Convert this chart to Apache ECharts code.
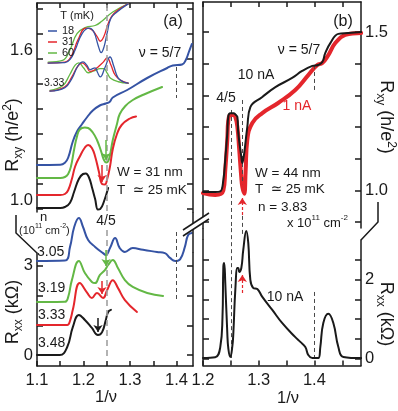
<!DOCTYPE html>
<html lang="en">
<head>
<meta charset="utf-8">
<style>
  html, body { margin: 0; padding: 0; background: #fff; }
  #chart { width: 398px; height: 411px; }
</style>
</head>
<body>
<div id="chart"></div>
<script src="https://cdn.jsdelivr.net/npm/echarts@6.0.0/dist/echarts.min.js"></script>
<script>
// ---- panel (a): Rxy (h/e^2), traces offset vertically as in the figure
var aRxyBlue  = [[1.100,1.176],[1.150,1.177],[1.160,1.185],[1.167,1.205],[1.177,1.270],[1.186,1.310],[1.197,1.340],[1.208,1.368],[1.220,1.394],[1.235,1.414],[1.248,1.422],[1.256,1.428],[1.263,1.446],[1.294,1.476],[1.337,1.524],[1.380,1.564],[1.392,1.574],[1.412,1.578],[1.420,1.596],[1.427,1.630],[1.433,1.660]];
var aRxyGreen = [[1.100,1.124],[1.150,1.124],[1.160,1.128],[1.167,1.140],[1.173,1.170],[1.180,1.240],[1.186,1.290],[1.192,1.318],[1.203,1.326],[1.210,1.324],[1.220,1.306],[1.229,1.276],[1.238,1.230],[1.244,1.196],[1.249,1.186],[1.255,1.200],[1.263,1.276],[1.272,1.340],[1.278,1.380],[1.290,1.412],[1.306,1.436],[1.330,1.458],[1.369,1.488]];
var aRxyRed   = [[1.100,1.056],[1.150,1.056],[1.160,1.060],[1.167,1.075],[1.175,1.120],[1.182,1.170],[1.192,1.210],[1.203,1.246],[1.210,1.256],[1.218,1.244],[1.225,1.210],[1.233,1.150],[1.240,1.100],[1.246,1.098],[1.251,1.120],[1.257,1.170],[1.263,1.240],[1.272,1.300],[1.282,1.336],[1.300,1.362],[1.313,1.370]];
var aRxyBlack = [[1.100,1.004],[1.150,1.004],[1.160,1.008],[1.171,1.025],[1.180,1.070],[1.190,1.120],[1.199,1.140],[1.205,1.142],[1.212,1.125],[1.218,1.088],[1.225,1.040],[1.231,0.998],[1.236,1.000],[1.244,1.030],[1.253,1.084]];

// ---- panel (a): Rxx (kOhm), labelled by density n
var aRxxBlue  = [[1.100,3.165],[1.160,3.180],[1.171,3.640],[1.180,4.310],[1.190,4.610],[1.199,4.310],[1.210,3.870],[1.225,3.640],[1.242,3.430],[1.248,3.370],[1.257,3.600],[1.268,3.940],[1.278,3.600],[1.289,3.470],[1.306,3.600],[1.328,3.540],[1.358,3.470],[1.375,3.430],[1.386,3.270],[1.397,3.165],[1.408,3.230],[1.418,3.640],[1.425,4.040],[1.433,4.110]];
var aRxxGreen = [[1.100,1.785],[1.160,1.790],[1.167,1.950],[1.175,2.520],[1.190,3.165],[1.203,2.760],[1.218,2.460],[1.225,2.420],[1.235,2.690],[1.246,2.860],[1.253,3.030],[1.263,3.200],[1.274,2.930],[1.289,2.520],[1.306,2.290],[1.337,2.090],[1.371,1.990]];
var aRxxRed   = [[1.100,1.010],[1.165,1.010],[1.171,1.150],[1.177,1.520],[1.192,2.420],[1.208,2.090],[1.218,1.920],[1.229,2.090],[1.242,1.920],[1.251,2.190],[1.263,2.520],[1.274,2.260],[1.289,1.850],[1.315,1.450]];
var aRxxBlack = [[1.100,0.000],[1.149,0.000],[1.165,0.270],[1.177,0.940],[1.190,1.350],[1.203,1.180],[1.218,0.910],[1.231,0.670],[1.240,0.770],[1.248,1.180],[1.253,1.450],[1.259,1.520]];
var aDensity  = ['3.05', '3.19', '3.33', '3.48'];

// ---- panel (a) inset: T dependence at n = 3.33 (arbitrary units)
var insetTemps = ['18', '31', '60'];
var insUpBlue  = [[1.124,0.333],[1.160,0.338],[1.172,0.380],[1.182,0.478],[1.197,0.660],[1.212,0.720],[1.222,0.680],[1.232,0.520],[1.238,0.448],[1.244,0.510],[1.251,0.670],[1.259,0.830],[1.272,0.900],[1.296,0.990]];
var insUpRed   = [[1.124,0.333],[1.160,0.343],[1.175,0.420],[1.188,0.590],[1.205,0.720],[1.216,0.710],[1.229,0.630],[1.236,0.575],[1.244,0.630],[1.253,0.770],[1.265,0.880],[1.296,0.990]];
var insUpGreen = [[1.124,0.343],[1.155,0.362],[1.170,0.470],[1.186,0.660],[1.205,0.730],[1.225,0.750],[1.240,0.800],[1.263,0.900],[1.296,0.990]];
var insLoBlue  = [[1.128,0.020],[1.160,0.060],[1.175,0.160],[1.188,0.300],[1.199,0.345],[1.207,0.310],[1.214,0.260],[1.225,0.280],[1.230,0.230],[1.236,0.180],[1.246,0.280],[1.257,0.400],[1.265,0.300],[1.274,0.170],[1.285,0.125],[1.296,0.110]];
var insLoRed   = [[1.128,0.020],[1.160,0.070],[1.175,0.180],[1.188,0.300],[1.197,0.335],[1.207,0.290],[1.214,0.240],[1.222,0.250],[1.229,0.280],[1.242,0.340],[1.251,0.390],[1.259,0.310],[1.268,0.200],[1.280,0.140],[1.296,0.110]];
var insLoGreen = [[1.128,0.030],[1.155,0.080],[1.170,0.200],[1.182,0.310],[1.190,0.335],[1.200,0.280],[1.210,0.225],[1.222,0.245],[1.236,0.270],[1.244,0.270],[1.251,0.220],[1.259,0.160],[1.275,0.125],[1.296,0.110]];

// ---- panel (b): W = 44 nm, 10 nA (black) and 1 nA (red)
var bRxy10nA = [[1.200,0.995],[1.222,0.995],[1.231,0.997],[1.2365,1.033],[1.240,1.100],[1.2436,1.181],[1.2455,1.235],[1.249,1.244],[1.255,1.244],[1.258,1.240],[1.2617,1.232],[1.2634,1.181],[1.2688,1.106],[1.2706,1.087],[1.274,1.118],[1.2795,1.200],[1.285,1.263],[1.3065,1.295],[1.330,1.326],[1.360,1.355],[1.378,1.377],[1.3963,1.393],[1.407,1.396],[1.4142,1.405],[1.4196,1.434],[1.4286,1.465],[1.443,1.494],[1.461,1.497],[1.484,1.500]];
var bRxy1nA  = [[1.200,0.992],[1.222,0.986],[1.2365,1.000],[1.240,1.065],[1.2436,1.160],[1.2455,1.222],[1.249,1.238],[1.2545,1.238],[1.258,1.232],[1.2617,1.200],[1.265,1.130],[1.2688,1.040],[1.2706,1.011],[1.274,0.990],[1.2765,1.060],[1.2795,1.159],[1.2885,1.213],[1.3065,1.244],[1.335,1.276],[1.3657,1.317],[1.389,1.364],[1.4052,1.396],[1.4142,1.402],[1.425,1.427],[1.4375,1.465],[1.4555,1.491],[1.484,1.497]];
var bRxx10nA = [[1.200,0.010],[1.222,0.030],[1.231,0.290],[1.235,1.050],[1.2365,2.320],[1.238,2.420],[1.240,1.910],[1.2436,0.650],[1.2455,0.250],[1.249,0.040],[1.2526,0.300],[1.2545,0.650],[1.258,1.730],[1.2617,2.290],[1.2634,2.290],[1.265,2.190],[1.2688,2.290],[1.2723,2.750],[1.2777,3.230],[1.2813,2.920],[1.285,1.990],[1.290,1.790],[1.2975,1.760],[1.3065,1.560],[1.3244,1.230],[1.342,0.900],[1.3657,0.540],[1.3747,0.420],[1.3837,0.290],[1.389,0.090],[1.3963,0.010],[1.407,0.010],[1.4106,0.290],[1.416,0.900],[1.425,1.130],[1.434,0.900],[1.443,0.290],[1.452,0.040],[1.484,0.010]];

// guide lines (dashed) and arrows, in axis units
var aGuideTop   = [[[1.25,1.816],[1.25,0.989]]];
var aGuideTop57 = [[[1.40,1.568],[1.40,1.444]]];
var aGuideBot   = [[[1.25,4.209],[1.25,-0.168]]];
var aGuideBot57 = [[[1.40,4.141],[1.40,1.852]]];
var bGuideTop   = [[[1.25,1.254],[1.25,0.8817]],[[1.2706,1.2855],[1.2706,1.020]],[[1.40,1.396],[1.40,1.3076]]];
var bGuideBot   = [[[1.25,3.300],[1.25,0.013]],[[1.2706,3.610],[1.2706,3.080]],[[1.40,1.684],[1.40,0.038]]];
var aArrowGreenTop = [[[1.2484,1.276],[1.2484,1.196]]];
var aArrowRedTop   = [[[1.2398,1.176],[1.2398,1.108]]];
var aArrowGreenBot = [[[1.2484,3.535],[1.2484,2.997]]];
var aArrowRedBot   = [[[1.2398,2.490],[1.2398,2.054]]];
var aArrowBlackBot = [[[1.2312,1.246],[1.2312,0.774]]];
var bArrowRedTop   = [[[1.2706,0.9227],[1.2706,0.976]]];
var bArrowRedBot   = [[[1.2706,1.658],[1.2706,2.114]]];

// tick / label positions
var aXTicks = [1.1,1.15,1.2,1.25,1.3,1.35,1.4], aXLabels = [1.1,1.2,1.3,1.4];
var bXTicks = [1.2,1.25,1.3,1.35,1.4,1.45],     bXLabels = [1.2,1.3,1.4];
var aRxyTicks = [1.0,1.1,1.2,1.3,1.4,1.5,1.6,1.7,1.8], aRxyLabels = [1.0,1.6];
var aRxxTicks = [0,1,2,3], aRxxLabels = [0,3];
var bRxyTicks = [0.9,1.0,1.1,1.2,1.3,1.4,1.5], bRxyLabels = [1.0,1.5];
var bRxxTicks = [0,0.5,1,1.5,2,2.5], bRxxLabels = [0,2];

var FONT = '"Liberation Sans", Arial, "DejaVu Sans", sans-serif';
var INK = '#1a1a1a', BLUE = '#3553a4', RED = '#e4262c', GREEN = '#63b845', GRAY = '#a0a0a0', DARK = '#4a4a4a';

function xAx(grid, pos, min, max, ticks, labels) {
  return {
    type: 'value', gridIndex: grid, position: pos, min: min, max: max,
    axisLine: { show: true, onZero: false, lineStyle: { color: INK, width: 1.5 } },
    axisTick: { show: true, inside: true, length: 5, customValues: ticks, lineStyle: { color: INK, width: 1.5 } },
    axisLabel: labels ? { show: true, customValues: labels, margin: 6, fontSize: 16.5, color: INK, fontFamily: FONT,
      formatter: function (v) { return v.toFixed(1); } } : { show: false },
    splitLine: { show: false }
  };
}
function yAx(grid, pos, min, max, ticks, labels, fmt, vAlign) {
  return {
    type: 'value', gridIndex: grid, position: pos, min: min, max: max,
    axisLine: { show: true, onZero: false, lineStyle: { color: INK, width: 1.5 } },
    axisTick: { show: true, inside: true, length: 6, customValues: ticks, lineStyle: { color: INK, width: 1.5 } },
    axisLabel: labels ? { show: true, customValues: labels, margin: 4, fontSize: 16.5, color: INK, fontFamily: FONT,
      verticalAlign: vAlign || 'middle', formatter: fmt } : { show: false },
    splitLine: { show: false }
  };
}
function hidden(grid, min, max) {
  return { type: 'value', gridIndex: grid, min: min, max: max, show: false, splitLine: { show: false } };
}
var f1 = function (v) { return v.toFixed(1); };
var f0 = function (v) { return String(v); };

function trace(data, color, xi, yi, w, z) {
  return { type: 'line', data: data, xAxisIndex: xi, yAxisIndex: yi, symbol: 'none', showSymbol: false,
    smooth: 0.45, clip: false, silent: true, z: z || 3,
    lineStyle: { color: color, width: w, cap: 'round', join: 'round' } };
}
function segs(pairs, xi, yi, color, width, dash, arrow) {
  return { type: 'lines', coordinateSystem: 'cartesian2d', xAxisIndex: xi, yAxisIndex: yi, clip: false, silent: true,
    symbol: arrow ? ['none', 'arrow'] : ['none', 'none'], symbolSize: 7, z: 4,
    lineStyle: { color: color, width: width, type: dash, opacity: 1 },
    data: pairs.map(function (p) { return { coords: p }; }) };
}

function txt(x, y, s, size, align, color) {
  return { type: 'text', x: x, y: y, z: 100, silent: true,
    style: { text: s, fontSize: size, fontFamily: FONT, fill: color || INK, align: align, verticalAlign: 'middle' } };
}
function rtxt(x, y, s, size, align, rot) {
  return { type: 'text', x: x, y: y, z: 100, silent: true, rotation: rot || 0,
    style: { text: s, fontFamily: FONT, fill: INK, align: align, verticalAlign: 'middle',
      rich: {
        a: { fontSize: size, fontFamily: FONT, fill: INK, lineHeight: size + 5 },
        sub: { fontSize: Math.round(size * 0.65), fontFamily: FONT, fill: INK, lineHeight: Math.round(size * 0.65), verticalAlign: 'bottom' },
        sup: { fontSize: Math.round(size * 0.65), fontFamily: FONT, fill: INK, lineHeight: Math.round(size * 0.65), verticalAlign: 'top' }
      } } };
}
function seg(x1, y1, x2, y2, color, w) {
  return { type: 'line', z: 100, silent: true, shape: { x1: x1, y1: y1, x2: x2, y2: y2 }, style: { stroke: color || INK, lineWidth: w || 1.5 } };
}

var aMin = 1.1, aMax = 1.1 + 156 / 465;
var bMin = 1.2, bMax = 1.2 + 158 / 557;

var option = {
  animation: false,
  backgroundColor: '#fff',
  textStyle: { fontFamily: FONT },
  grid: [
    { left: 37, top: 3, width: 156, height: 209, outerBoundsMode: 'none' },
    { left: 37, top: 253, width: 156, height: 113, outerBoundsMode: 'none' },
    { left: 37, top: 3, width: 156, height: 90, outerBoundsMode: 'none' },
    { left: 203, top: 2, width: 158, height: 226, outerBoundsMode: 'none' },
    { left: 203, top: 240, width: 158, height: 125.5, outerBoundsMode: 'none' }
  ],
  xAxis: [
    xAx(0, 'top', aMin, aMax, aXTicks, null),
    xAx(1, 'bottom', aMin, aMax, aXTicks, aXLabels),
    hidden(2, aMin, aMax),
    xAx(3, 'top', bMin, bMax, bXTicks, null),
    xAx(4, 'bottom', bMin, bMax, bXTicks, bXLabels)
  ],
  yAxis: [
    yAx(0, 'left', 0.988, 1.824, aRxyTicks, aRxyLabels, f1, 'bottom'),
    yAx(0, 'right', 0.988, 1.824, aRxyTicks, null),
    yAx(1, 'left', -0.3704, 3.4343, aRxxTicks, aRxxLabels, f0),
    yAx(1, 'right', -0.3704, 3.4343, aRxxTicks, null),
    hidden(2, 0, 1),
    yAx(3, 'right', 0.8817, 1.5946, bRxyTicks, bRxyLabels, f1),
    yAx(3, 'left', 0.8817, 1.5946, bRxyTicks, null),
    yAx(4, 'right', -0.1772, 3.0, bRxxTicks, bRxxLabels, f0),
    yAx(4, 'left', -0.1772, 3.0, bRxxTicks, null)
  ],
  series: [
    segs(aGuideTop, 0, 0, GRAY, 1.6, [6, 4]),
    segs(aGuideTop57, 0, 0, DARK, 1, [4, 3]),
    segs(aGuideBot, 1, 2, GRAY, 1.6, [6, 4]),
    segs(aGuideBot57, 1, 2, DARK, 1, [4, 3]),
    segs(bGuideTop, 3, 5, DARK, 1, [4, 3]),
    segs(bGuideBot, 4, 7, DARK, 1, [4, 3]),

    trace(aRxyBlue, BLUE, 0, 0, 2),
    trace(aRxyGreen, GREEN, 0, 0, 2),
    trace(aRxyRed, RED, 0, 0, 2),
    trace(aRxyBlack, INK, 0, 0, 2),
    trace(aRxxBlue, BLUE, 1, 2, 2),
    trace(aRxxGreen, GREEN, 1, 2, 2),
    trace(aRxxRed, RED, 1, 2, 2),
    trace(aRxxBlack, INK, 1, 2, 2),

    trace(insUpGreen, GREEN, 2, 4, 1.3),
    trace(insUpRed, RED, 2, 4, 1.3),
    trace(insUpBlue, BLUE, 2, 4, 1.3),
    trace(insLoGreen, GREEN, 2, 4, 1.3),
    trace(insLoRed, RED, 2, 4, 1.3),
    trace(insLoBlue, BLUE, 2, 4, 1.3),

    trace(bRxy1nA, RED, 3, 5, 4, 3),
    trace(bRxy10nA, INK, 3, 5, 2, 5),
    trace(bRxx10nA, INK, 4, 7, 2, 5),

    segs(aArrowGreenTop, 0, 0, GREEN, 1.5, 'solid', true),
    segs(aArrowRedTop, 0, 0, RED, 1.5, 'solid', true),
    segs(aArrowGreenBot, 1, 2, GREEN, 1.5, 'solid', true),
    segs(aArrowRedBot, 1, 2, RED, 1.5, 'solid', true),
    segs(aArrowBlackBot, 1, 2, INK, 1.5, 'solid', true),
    segs(bArrowRedTop, 3, 5, RED, 1.2, [3, 2], true),
    segs(bArrowRedBot, 4, 7, RED, 1.2, [3, 2], true)
  ],
  graphic: [
    // axis breaks
    { type: 'polyline', z: 100, silent: true, shape: { points: [[16, 215], [16, 233], [37, 253]] }, style: { stroke: INK, lineWidth: 1.5, fill: null } },
    { type: 'polyline', z: 100, silent: true, shape: { points: [[378, 202], [378, 222], [361, 240]] }, style: { stroke: INK, lineWidth: 1.5, fill: null } },
    seg(193, 212, 193, 253),
    seg(203, 228, 203, 240),
    { type: 'polygon', z: 101, silent: true, shape: { points: [[183, 230], [209, 213], [209, 219], [183, 236]] }, style: { fill: '#fff' } },
    Object.assign(seg(183, 230, 209, 213), { z: 102 }),
    Object.assign(seg(183, 236, 209, 219), { z: 102 }),

    // inset legend
    txt(77, 16, 'T (mK)', 11, 'center'),
    seg(48, 31, 57, 31, BLUE, 1.5), txt(62, 31, insetTemps[0], 11, 'left'),
    seg(48, 42, 57, 42, RED, 1.5), txt(62, 42, insetTemps[1], 11, 'left'),
    seg(48, 53, 57, 53, GREEN, 1.5), txt(62, 53, insetTemps[2], 11, 'left'),
    txt(44, 83, '3.33', 10.5, 'left'),

    // panel (a) annotations
    txt(173, 22, '(a)', 16, 'center'),
    txt(160, 53, 'ν = 5/7', 14, 'center'),
    txt(117, 172, 'W = 31 nm', 13.5, 'left'),
    txt(117, 190, 'T  \u2243 25 mK', 13.5, 'left'),
    txt(106, 221, '4/5', 14, 'center'),
    txt(40, 217, 'n', 13, 'left'),
    rtxt(19, 231, '{a|(10}{sup|11}{a| cm}{sup|-2}{a|)}', 11, 'left'),
    txt(37, 252, aDensity[0], 14, 'left'),
    txt(38, 288, aDensity[1], 14, 'left'),
    txt(38, 315, aDensity[2], 14, 'left'),
    txt(38, 343, aDensity[3], 14, 'left'),
    rtxt(13, 135, '{a|R}{sub|xy}{a| (h/e}{sup|2}{a|)}', 18, 'center', Math.PI / 2),
    rtxt(13, 312, '{a|R}{sub|xx}{a| (kΩ)}', 18, 'center', Math.PI / 2),
    txt(106, 397, '1/ν', 16.5, 'center'),

    // panel (b) annotations
    txt(343, 22, '(b)', 16, 'center'),
    txt(299, 50, 'ν = 5/7', 14, 'center'),
    txt(256, 75, '10 nA', 14, 'center'),
    txt(297, 106, '1 nA', 14, 'center', RED),
    txt(226, 98, '4/5', 14, 'center'),
    txt(255, 173, 'W = 44 nm', 13.5, 'left'),
    txt(255, 189, 'T  \u2243 25 mK', 13.5, 'left'),
    txt(258, 207, 'n = 3.83', 13.5, 'left'),
    rtxt(287, 223, '{a|x 10}{sup|11}{a| cm}{sup|-2}', 13, 'left'),
    txt(285, 297, '10 nA', 14, 'center'),
    rtxt(386, 117, '{a|R}{sub|xy}{a| (h/e}{sup|2}{a|)}', 18, 'center', -Math.PI / 2),
    rtxt(386, 314, '{a|R}{sub|xx}{a| (kΩ)}', 18, 'center', -Math.PI / 2),
    txt(288, 398, '1/ν', 16.5, 'center')
  ]
};

var chart = echarts.init(document.getElementById('chart'));
chart.setOption(option);
</script>
</body>
</html>
